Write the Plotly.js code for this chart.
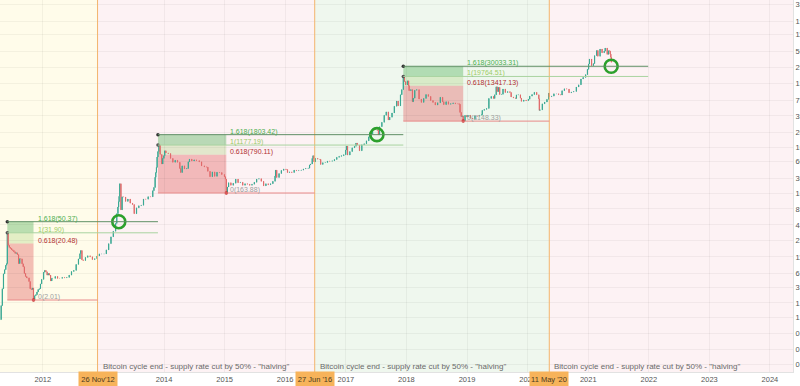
<!DOCTYPE html>
<html>
<head>
<meta charset="utf-8">
<script src="https://cdn.plot.ly/plotly-3.0.1.min.js"></script>
<style>html,body{margin:0;padding:0;background:#fff;}#chart{width:800px;height:386px;}</style>
</head>
<body>
<div id="chart"></div>
<script>
// ---- price series (approximate closes) ----
const dates = [
'2011-04-18','2011-04-25','2011-05-02','2011-05-09','2011-05-16','2011-05-23','2011-05-28','2011-06-01','2011-06-06','2011-06-13','2011-06-20','2011-06-27','2011-07-04','2011-07-11','2011-07-18','2011-07-25','2011-08-01','2011-08-08','2011-08-15','2011-08-22','2011-08-29','2011-09-05','2011-09-12','2011-09-19','2011-09-26','2011-10-03','2011-10-10','2011-10-17','2011-10-24','2011-10-31','2011-11-06','2011-11-13','2011-11-20','2011-11-27','2011-12-04','2011-12-11','2011-12-18','2011-12-25',
'2012-01-06','2012-01-13','2012-01-20','2012-01-27','2012-02-03','2012-02-10','2012-02-17','2012-02-24','2012-03-02','2012-03-16','2012-03-30','2012-04-13','2012-04-27','2012-05-11','2012-05-25','2012-06-08','2012-06-22','2012-07-06','2012-07-20','2012-08-03','2012-08-12','2012-08-17','2012-08-24','2012-08-31','2012-09-14','2012-09-28','2012-10-12','2012-10-26','2012-11-09','2012-11-23','2012-12-07','2012-12-21',
'2013-01-04','2013-01-18','2013-02-01','2013-02-15','2013-03-01','2013-03-15','2013-03-22','2013-03-29','2013-04-02','2013-04-05','2013-04-09','2013-04-16','2013-04-23','2013-04-30','2013-05-14','2013-05-28','2013-06-11','2013-06-25','2013-07-05','2013-07-19','2013-08-02','2013-08-16','2013-08-30','2013-09-13','2013-09-27','2013-10-11','2013-10-25','2013-11-01','2013-11-08','2013-11-12','2013-11-16','2013-11-20','2013-11-25','2013-12-01','2013-12-08','2013-12-18','2013-12-24','2013-12-31',
'2014-01-05','2014-01-12','2014-01-26','2014-02-09','2014-02-23','2014-03-09','2014-03-23','2014-04-06','2014-04-11','2014-04-20','2014-05-04','2014-05-18','2014-05-27','2014-06-03','2014-06-17','2014-07-01','2014-07-15','2014-08-01','2014-08-15','2014-09-01','2014-09-15','2014-09-22','2014-10-05','2014-10-19','2014-11-02','2014-11-16','2014-12-01','2014-12-15','2014-12-31',
'2015-01-06','2015-01-11','2015-01-18','2015-01-25','2015-02-08','2015-02-22','2015-03-09','2015-03-23','2015-04-06','2015-04-20','2015-05-04','2015-05-18','2015-06-01','2015-06-15','2015-06-29','2015-07-13','2015-07-27','2015-08-10','2015-08-24','2015-09-07','2015-09-21','2015-10-05','2015-10-19','2015-11-01','2015-11-04','2015-11-11','2015-11-25','2015-12-09','2015-12-23',
'2016-01-06','2016-01-15','2016-01-27','2016-02-10','2016-02-24','2016-03-09','2016-03-23','2016-04-06','2016-04-20','2016-05-04','2016-05-18','2016-05-27','2016-06-02','2016-06-12','2016-06-17','2016-06-23','2016-07-01','2016-07-15','2016-07-29','2016-08-02','2016-08-15','2016-08-29','2016-09-12','2016-09-26','2016-10-10','2016-10-24','2016-11-07','2016-11-21','2016-12-05','2016-12-19','2016-12-31',
'2017-01-04','2017-01-11','2017-01-25','2017-02-08','2017-02-22','2017-03-03','2017-03-10','2017-03-24','2017-04-07','2017-04-21','2017-05-05','2017-05-19','2017-05-25','2017-06-01','2017-06-11','2017-06-25','2017-07-09','2017-07-16','2017-07-23','2017-08-06','2017-08-20','2017-09-01','2017-09-14','2017-09-22','2017-10-06','2017-10-20','2017-11-03','2017-11-12','2017-11-26','2017-12-04','2017-12-13','2017-12-20','2017-12-27',
'2018-01-07','2018-01-14','2018-01-17','2018-01-28','2018-02-06','2018-02-11','2018-02-20','2018-03-04','2018-03-18','2018-04-01','2018-04-15','2018-04-29','2018-05-13','2018-05-27','2018-06-10','2018-06-24','2018-07-08','2018-07-24','2018-08-07','2018-08-14','2018-08-28','2018-09-11','2018-09-25','2018-10-09','2018-10-23','2018-11-06','2018-11-14','2018-11-20','2018-11-27','2018-12-03','2018-12-09','2018-12-20','2018-12-31',
'2019-01-07','2019-01-21','2019-02-04','2019-02-18','2019-03-04','2019-03-18','2019-04-01','2019-04-03','2019-04-15','2019-04-29','2019-05-13','2019-05-27','2019-06-10','2019-06-17','2019-06-26','2019-07-02','2019-07-10','2019-07-17','2019-07-29','2019-08-06','2019-08-20','2019-09-03','2019-09-17','2019-09-24','2019-10-08','2019-10-22','2019-10-26','2019-11-05','2019-11-19','2019-11-25','2019-12-09','2019-12-23',
'2020-01-06','2020-01-14','2020-01-28','2020-02-11','2020-02-25','2020-03-09','2020-03-12','2020-03-16','2020-03-30','2020-04-13','2020-04-27','2020-05-07','2020-05-11','2020-05-25','2020-06-08','2020-06-22','2020-07-06','2020-07-20','2020-07-27','2020-08-10','2020-08-24','2020-09-07','2020-09-21','2020-10-05','2020-10-21','2020-11-04','2020-11-18','2020-12-01','2020-12-16','2020-12-27',
'2021-01-03','2021-01-08','2021-01-21','2021-02-01','2021-02-08','2021-02-21','2021-02-28','2021-03-13','2021-03-25','2021-04-07','2021-04-13','2021-04-25','2021-05-03','2021-05-10','2021-05-13','2021-05-17','2021-05-20'
];
const closes = [
0.9,1.6,3.2,5.9,7.0,8.4,9.0,31.9,19.0,17.5,16.8,15.9,15.4,14.6,13.7,14.0,13.0,9.0,11.0,10.9,8.9,7.9,6.0,5.3,5.0,5.0,4.3,3.2,3.1,3.3,2.01,2.4,2.5,2.8,3.1,3.2,3.9,4.7,
6.3,6.8,6.4,5.6,6.0,5.6,4.4,4.9,4.9,5.3,4.9,4.9,5.1,5.0,5.1,5.6,6.5,6.8,8.7,10.9,13.5,15.4,10.5,10.2,11.6,12.4,11.9,10.6,11.0,12.3,13.4,13.4,
13.4,15.8,20.4,27.0,34.0,46.9,70,92,115,143,240,82,140,139,116,128,108,102,70,89,97,99,128,127,141,140,180,206,313,380,470,720,900,1177,800,540,680,760,
930,850,830,680,580,630,580,450,380,500,440,450,590,660,610,640,620,590,500,480,475,400,320,390,325,385,380,350,320,
290,164,210,250,225,245,290,250,255,225,240,235,225,235,255,290,295,265,220,240,230,240,265,330,420,310,365,415,440,
430,380,390,380,420,410,415,420,440,450,455,520,540,680,760,590,680,660,650,530,570,575,610,605,615,650,710,740,760,790,960,
1130,780,900,1050,1120,1280,1180,930,1190,1240,1400,1650,1950,1850,2300,2200,2150,1800,2500,3000,4000,4600,3300,3700,4400,5800,7200,5900,9300,11500,19700,16000,14000,
16500,13500,11000,11500,7000,8100,11200,11500,7800,6800,8000,9400,8700,7350,6800,6100,6700,8400,7000,6200,7000,6300,6450,6650,6450,6450,6300,4500,3800,3900,3150,4000,3750,
4000,3550,3450,3900,3850,4000,4150,4900,5100,5300,8000,8700,8000,9300,12900,10600,12600,9400,9500,11800,10200,10600,10200,8500,8200,8000,9250,9300,8100,7100,7500,7300,
7750,8800,9400,10300,9300,7900,4900,5000,6400,6900,7700,9950,8600,8800,9700,9700,9350,9200,11000,11900,11750,10100,10400,10650,12800,14000,17800,19000,21300,26500,
33000,40500,30800,33500,46500,57500,45300,61000,52300,56000,63500,49000,57000,56000,49500,43500,35500
];

// ---- halvings ----
const halvingDates = ['2012-11-26','2016-06-27','2020-05-11'];
const halvingLabels = ["26 Nov'12", "27 Jun '16", "11 May '20"];
const halvingText = 'Bitcoin cycle end - supply rate cut by 50% - "halving"';

// ---- Fibonacci drawings ----
const fibHighDates = ['2011-06-01','2013-11-25','2017-12-13'];
const fibLowDates  = ['2011-11-06','2015-01-11','2018-12-09'];
const fibHigh = [31.90, 1177.19, 19764.51];
const fibLow  = [2.01, 163.88, 3148.33];
const fibExtEnd = ['2013-11-25','2017-12-13','2021-12-28'];
const fibLevels = [1.618, 1, 0.618, 0];

// ---- highlight circles ----
const circleDates = ['2013-04-03','2017-07-07','2021-05-19'];

// ---- axes ----
const yearTicks = ['2012','2014','2015','2016','2017','2018','2019','2020','2021','2022','2023','2024'];
const priceTickText = ['380000','190000','110000','56000','29000','15000','7500','3900','2000','1080','600','300','160','85','44','23','11.8','6.1','3.4','1.78','1.00','0.50','0.26','0.14'];

// ---- build ----
const opens = closes.map((c,i)=> i===0 ? c : closes[i-1]);
const highs = closes.map((c,i)=> Math.max(c, opens[i]));
const lows  = closes.map((c,i)=> Math.min(c, opens[i]));

const xStart = '2011-04-18', xEnd = '2024-05-19';
const font = 'Liberation Sans, Arial, sans-serif';

const traces = [{
  type:'candlestick', x:dates, open:opens, high:highs, low:lows, close:closes,
  increasing:{line:{color:'#3aa893',width:1}, fillcolor:'#3aa893'},
  decreasing:{line:{color:'#e06a6a',width:1}, fillcolor:'#e06a6a'},
  whiskerwidth:0, hoverinfo:'skip', showlegend:false
}];

const shapes = [];
const annotations = [];
const bgColors = ['#fffcea','#fdf2f4','#eff7ee','#fdf2f4'];
const bounds = [xStart].concat(halvingDates).concat([xEnd]);
for (let i=0;i<4;i++){
  shapes.push({type:'rect',xref:'x',yref:'paper',x0:bounds[i],x1:bounds[i+1],y0:0,y1:1,fillcolor:bgColors[i],line:{width:0},layer:'below'});
}
halvingDates.forEach((d,i)=>{
  shapes.push({type:'line',xref:'x',yref:'paper',x0:d,x1:d,y0:0,y1:1,line:{color:'#f3b46c',width:1},layer:'above'});
  annotations.push({x:d,xref:'x',y:0.016,yref:'paper',text:halvingText,showarrow:false,xanchor:'left',yanchor:'middle',xshift:3,font:{family:font,size:8,color:'#6a6a6a'}});
  annotations.push({x:d,xref:'x',y:-0.019,yref:'paper',text:halvingLabels[i],showarrow:false,xanchor:'center',yanchor:'middle',bgcolor:'#f7b35a',width:36,height:12,font:{family:font,size:7.5,color:'#4a3a20'}});
});

const markerX=[], markerY=[], markerC=[];
const levelColors = {1.618:'#4caf50', 1:'#9ccc65', 0.618:'#b03030', 0:'#9e9e9e'};
fibHigh.forEach((hi,i)=>{
  const lo = fibLow[i];
  const lv = l => lo + l*(hi-lo);
  const h0 = fibHighDates[i], l0 = fibLowDates[i];
  shapes.push({type:'rect',xref:'x',yref:'y',x0:h0,x1:l0,y0:lv(1),y1:lv(1.618),fillcolor:'rgba(102,187,106,0.45)',line:{width:0},layer:'below'});
  shapes.push({type:'rect',xref:'x',yref:'y',x0:h0,x1:l0,y0:lv(0.618),y1:lv(1),fillcolor:'rgba(174,213,129,0.35)',line:{width:0},layer:'below'});
  shapes.push({type:'rect',xref:'x',yref:'y',x0:h0,x1:l0,y0:lv(0),y1:lv(0.618),fillcolor:'rgba(229,115,115,0.45)',line:{width:0},layer:'below'});
  shapes.push({type:'line',xref:'x',yref:'y',x0:h0,x1:fibExtEnd[i],y0:lv(1.618),y1:lv(1.618),line:{color:'#5f8f65',width:1},layer:'above'});
  shapes.push({type:'line',xref:'x',yref:'y',x0:h0,x1:fibExtEnd[i],y0:lv(1),y1:lv(1),line:{color:'#a9d3a0',width:1},layer:'above'});
  shapes.push({type:'line',xref:'x',yref:'y',x0:h0,x1:halvingDates[i],y0:lv(0),y1:lv(0),line:{color:'#e88a8a',width:1},layer:'above'});
  fibLevels.forEach(l=>{
    annotations.push({x:l0,xref:'x',y:Math.log10(lv(l)),yref:'y',text:l+'('+lv(l).toFixed(2)+')',showarrow:false,xanchor:'left',yanchor:'middle',xshift:2,yshift:3,font:{family:font,size:7,color:levelColors[l]}});
  });
  markerX.push(h0,h0,l0); markerY.push(lv(1.618),lv(1),lv(0)); markerC.push('#333','#555','#c62828');
});
traces.push({type:'scatter',mode:'markers',x:markerX,y:markerY,marker:{size:3.5,color:markerC},hoverinfo:'skip',showlegend:false});

const circleY = fibHigh.map((hi,i)=> fibLow[i] + 1.618*(hi-fibLow[i]));
traces.push({type:'scatter',mode:'markers',x:circleDates,y:circleY,marker:{symbol:'circle-open',size:13,line:{width:2.6,color:'#0b6f73'}},hoverinfo:'skip',showlegend:false});

// y tick values from their labels
const priceTickVals = priceTickText.map(Number);

const layout = {
  width:800, height:386,
  margin:{l:0,r:7,t:0,b:14},
  paper_bgcolor:'#ffffff', plot_bgcolor:'#ffffff',
  showlegend:false,
  xaxis:{type:'date',range:[xStart,xEnd],rangeslider:{visible:false},
    tickvals:yearTicks.map(y=>y+'-01-01'),ticktext:yearTicks,
    tickfont:{family:font,size:7.5,color:'#555'},ticks:'',
    showgrid:true,gridcolor:'rgba(0,0,0,0.045)',gridwidth:1,
    showline:true,linecolor:'#e2e2e2',linewidth:1,zeroline:false,fixedrange:true},
  yaxis:{type:'log',side:'right',range:[-0.982,5.661],
    tickvals:priceTickVals,ticktext:priceTickText,
    tickfont:{family:font,size:7.5,color:'#555'},ticks:'',
    showgrid:true,gridcolor:'rgba(0,0,0,0.045)',gridwidth:1,
    showline:true,linecolor:'#e2e2e2',linewidth:1,zeroline:false,fixedrange:true},
  shapes:shapes,
  annotations:annotations
};

Plotly.newPlot('chart', traces, layout, {staticPlot:true,displayModeBar:false});
</script>
</body>
</html>
